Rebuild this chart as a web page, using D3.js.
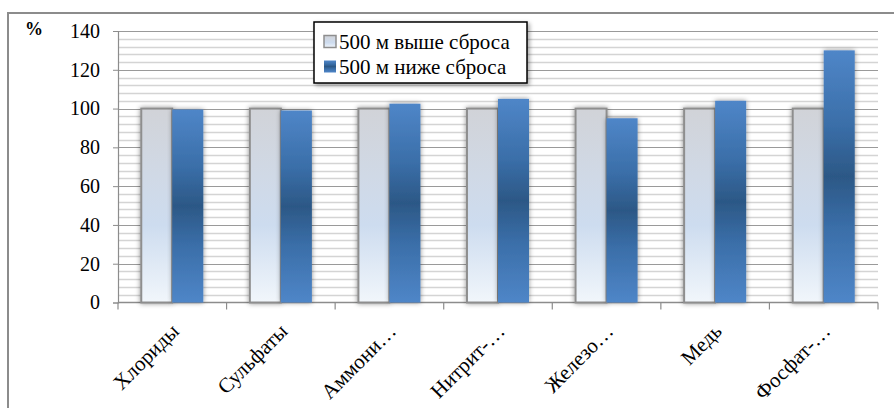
<!DOCTYPE html>
<html lang="ru">
<head>
<meta charset="UTF-8">
<title>Chart</title>
<script src="https://d3js.org/d3.v7.min.js"></script>
<style>
  body { margin: 0; background: #fff; }
</style>
</head>
<body>
<svg id="chart" width="894" height="408"></svg>
<script>
const categories = ["Хлориды", "Сульфаты", "Аммони…", "Нитрит-…", "Железо…", "Медь", "Фосфат-…"];
const seriesNames = ["500 м выше сброса", "500 м ниже сброса"];
const above = [100, 100, 100, 100, 100, 100, 100];
const below = [99.5, 99, 102.5, 105, 95, 104, 130];
const yTicks = [0, 20, 40, 60, 80, 100, 120, 140];

const FONT = "Liberation Serif, DejaVu Serif, serif";

const svg = d3.select("#chart");
const defs = svg.append("defs");

// gradients
const gGrey = defs.append("linearGradient").attr("id", "gradGrey")
  .attr("x1", 0).attr("y1", 0).attr("x2", 0).attr("y2", 1);
[[0, "#d1d3d8"], [0.35, "#d0d9e6"], [0.6, "#cddcef"], [1, "#f1f6fb"]]
  .forEach(s => gGrey.append("stop").attr("offset", s[0]).attr("stop-color", s[1]));

const gBlue = defs.append("linearGradient").attr("id", "gradBlue")
  .attr("x1", 0).attr("y1", 0).attr("x2", 0).attr("y2", 1);
[[0, "#4f86c8"], [0.3, "#3a6ea8"], [0.5, "#2c5886"], [0.7, "#3a6ea8"], [1, "#4f86c8"]]
  .forEach(s => gBlue.append("stop").attr("offset", s[0]).attr("stop-color", s[1]));

const shadow = defs.append("filter").attr("id", "shadow")
  .attr("x", "-50%").attr("y", "-20%").attr("width", "200%").attr("height", "140%");
shadow.append("feDropShadow").attr("dx", 0).attr("dy", 0)
  .attr("stdDeviation", 2.5).attr("flood-color", "#000").attr("flood-opacity", 0.45);

const legShadow = defs.append("filter").attr("id", "legShadow")
  .attr("x", "-10%").attr("y", "-20%").attr("width", "130%").attr("height", "150%");
legShadow.append("feDropShadow").attr("dx", 2).attr("dy", 2)
  .attr("stdDeviation", 2).attr("flood-color", "#000").attr("flood-opacity", 0.35);

// outer chart border
svg.append("path")
  .attr("d", "M8,408 L8,13 L894,13")
  .attr("fill", "none").attr("stroke", "#8c8c8c").attr("stroke-width", 2);

const plotLeft = 118, plotRight = 878, plotTop = 31, plotBottom = 302.5;

const y = d3.scaleLinear().domain([0, 140]).range([plotBottom, plotTop]);
const x0 = d3.scaleBand().domain(categories).range([plotLeft, plotRight]).padding(0);
const x1 = d3.scaleBand().domain(seriesNames).range([0, x0.bandwidth()])
  .paddingInner(0).paddingOuter(0.75);

// gridlines
const minor = d3.range(0, 141, 4).filter(v => v % 20 !== 0);
svg.append("g").selectAll("line").data(minor).join("line")
  .attr("x1", plotLeft).attr("x2", plotRight)
  .attr("y1", d => Math.round(y(d)) + 0.5).attr("y2", d => Math.round(y(d)) + 0.5)
  .attr("stroke", "#d4d4d4").attr("stroke-width", 1.5);
svg.append("g").selectAll("line").data(yTicks.filter(v => v > 0)).join("line")
  .attr("x1", plotLeft).attr("x2", plotRight)
  .attr("y1", d => Math.round(y(d)) + 0.5).attr("y2", d => Math.round(y(d)) + 0.5)
  .attr("stroke", "#9a9a9a").attr("stroke-width", 1.2);

// y axis
const yAxis = svg.append("g").attr("transform", `translate(${plotLeft},0)`)
  .call(d3.axisLeft(y).tickValues(yTicks).tickSize(5).tickPadding(13));
yAxis.attr("font-family", FONT).attr("font-size", 20);
yAxis.select(".domain").attr("stroke", "#8c8c8c").attr("stroke-width", 1.2);
yAxis.selectAll(".tick line").attr("stroke", "#8c8c8c");
yAxis.selectAll("text").attr("fill", "#000");

// x axis
const xAxis = svg.append("g").attr("transform", `translate(0,${plotBottom})`)
  .attr("font-family", FONT).attr("font-size", 21);
xAxis.append("line").attr("x1", plotLeft).attr("x2", plotRight)
  .attr("stroke", "#8c8c8c").attr("stroke-width", 1.5);
const tickPos = categories.map(c => x0(c)).concat([plotRight]);
xAxis.selectAll(".xt").data(tickPos).join("line").attr("class", "xt")
  .attr("x1", d => d).attr("x2", d => d).attr("y1", 0).attr("y2", 7)
  .attr("stroke", "#8c8c8c").attr("stroke-width", 1.2);

xAxis.selectAll(".xl").data(categories).join("text").attr("class", "xl")
  .attr("transform", d => `translate(${x0(d) + x0.bandwidth() / 2 + 8},30) rotate(-45)`)
  .attr("text-anchor", "end")
  .text(d => d);

// bars
const groups = svg.append("g").selectAll("g").data(categories).join("g")
  .attr("transform", d => `translate(${x0(d)},0)`);

groups.append("rect")
  .attr("x", x1(seriesNames[0]))
  .attr("y", (d, i) => y(above[i]))
  .attr("width", x1.bandwidth())
  .attr("height", (d, i) => y(0) - y(above[i]))
  .attr("fill", "url(#gradGrey)")
  .attr("stroke", "#8e8e8e").attr("stroke-width", 2)
  .attr("filter", "url(#shadow)");

groups.append("rect")
  .attr("x", x1(seriesNames[1]))
  .attr("y", (d, i) => y(below[i]))
  .attr("width", x1.bandwidth())
  .attr("height", (d, i) => y(0) - y(below[i]))
  .attr("fill", "url(#gradBlue)")
  .attr("filter", "url(#shadow)");

// "%" label
svg.append("text").attr("x", 34).attr("y", 35).attr("text-anchor", "middle")
  .attr("font-family", FONT)
  .attr("font-size", 18).attr("font-weight", "bold").text("%");

// legend
const legend = svg.append("g").attr("transform", "translate(314,22)")
  .attr("font-family", FONT).attr("font-size", 21);
legend.append("rect").attr("width", 213).attr("height", 61)
  .attr("fill", "#fff").attr("stroke", "#000").attr("stroke-width", 1.5)
  .attr("filter", "url(#legShadow)");
const legItems = legend.selectAll(".li").data(seriesNames).join("g").attr("class", "li")
  .attr("transform", (d, i) => `translate(10,${19.5 + i * 25})`);
legItems.append("rect").attr("x", 0).attr("y", -6).attr("width", 12).attr("height", 12)
  .attr("fill", (d, i) => i === 0 ? "url(#gradGrey)" : "url(#gradBlue)")
  .attr("stroke", (d, i) => i === 0 ? "#8e8e8e" : "none").attr("stroke-width", 1.5);
legItems.append("text").attr("x", 15).attr("y", 0).attr("dy", "0.35em")
  .text(d => d);
</script>
</body>
</html>
